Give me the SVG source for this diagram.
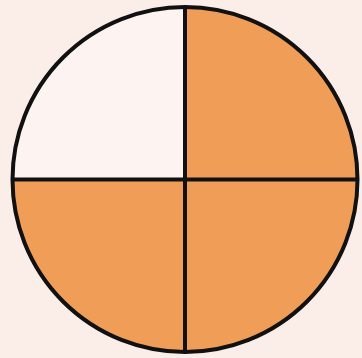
<svg xmlns="http://www.w3.org/2000/svg" width="362" height="358" viewBox="0 0 362 358">
<style>
.q{fill:#F09D57;}
.w{fill:#FDF3F0;}
.ln{stroke:#111;stroke-width:4;fill:none;}
</style>
<rect width="362" height="358" fill="#FBEEE9"/>
<g id="circle">
<path class="w" d="M185,179.5 L12.5,179.5 A172.5,172.5 0 0 1 185,7 Z"/>
<path class="q" d="M185,179.5 L185,7 A172.5,172.5 0 0 1 357.5,179.5 Z"/>
<path class="q" d="M185,179.5 L357.5,179.5 A172.5,172.5 0 0 1 185,352 Z"/>
<path class="q" d="M185,179.5 L185,352 A172.5,172.5 0 0 1 12.5,179.5 Z"/>
<circle class="ln" cx="185" cy="179.5" r="172.5"/>
<line class="ln" x1="185" y1="7" x2="185" y2="352"/>
<line class="ln" x1="12.5" y1="179.5" x2="357.5" y2="179.5"/>
</g>
</svg>
